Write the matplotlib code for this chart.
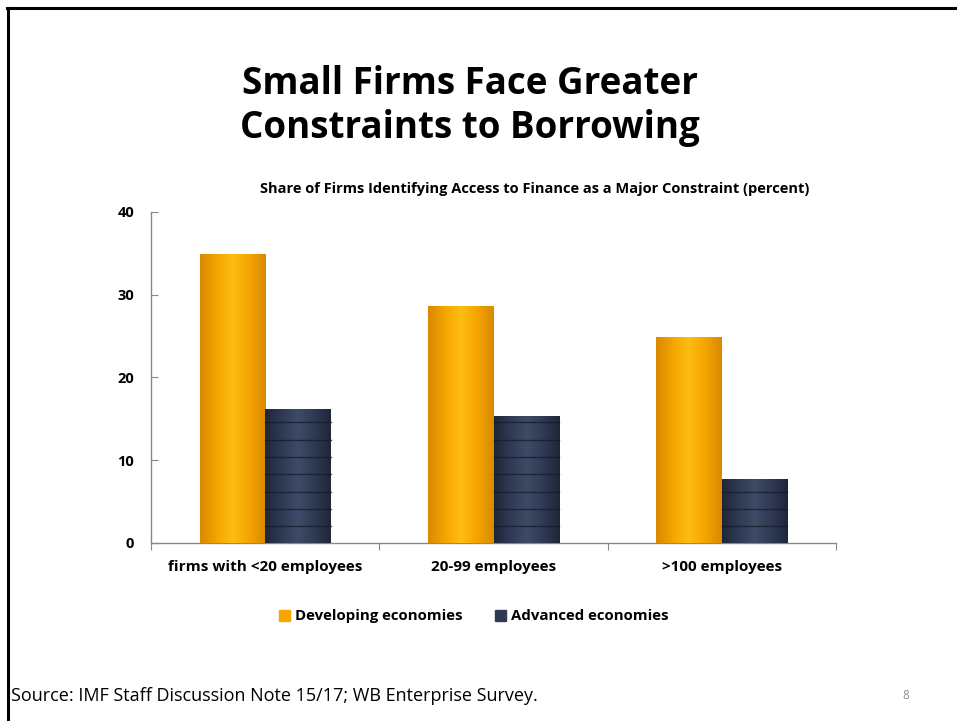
import numpy as np
import matplotlib.pyplot as plt
from matplotlib.colors import LinearSegmentedColormap
from matplotlib.patches import Patch

categories = ["firms with <20 employees", "20-99 employees", ">100 employees"]
developing = [34.9, 28.6, 24.9]
advanced = [16.2, 15.4, 7.7]
series_names = ["Developing economies", "Advanced economies"]

plt.rcParams["font.family"] = ["Open Sans", "DejaVu Sans"]

fig = plt.figure(figsize=(9.57, 7.21), dpi=100)
ax = fig.add_axes([0.1578, 0.2469, 0.7158, 0.4591])

# cylinder-ish shading across each bar
orange_cmap = LinearSegmentedColormap.from_list(
    "gold", ["#d98a00", "#f5a400", "#ffbe12", "#f5a400", "#d98a00"])
navy_cmap = LinearSegmentedColormap.from_list(
    "navy", ["#1e2638", "#2f3a55", "#3e4a66", "#2f3a55", "#1e2638"])

x = np.arange(len(categories)) + 0.5
w = 0.287
bars_dev = ax.bar(x - w / 2, developing, w, color="#f5a400", zorder=2)
bars_adv = ax.bar(x + w / 2, advanced, w, color="#2f3a55", zorder=2)

grad = np.linspace(0, 1, 64).reshape(1, -1)
for bars, cmap in [(bars_dev, orange_cmap), (bars_adv, navy_cmap)]:
    for b in bars:
        x0, y0 = b.get_x(), b.get_y()
        im = ax.imshow(grad, cmap=cmap, aspect="auto", zorder=3,
                       extent=[x0, x0 + b.get_width(), y0, y0 + b.get_height()])
        im.set_clip_path(b)

# stacked-ring lines on the navy bars
for b in bars_adv:
    for yy in np.arange(2.0, b.get_height() - 0.5, 2.1):
        ax.plot([b.get_x(), b.get_x() + b.get_width()], [yy, yy],
                color="#141a26", lw=1.0, alpha=0.7, zorder=4)

ax.set_xlim(0, 3)
ax.set_ylim(0, 40)
ax.set_yticks([0, 10, 20, 30, 40])
ax.set_xticks([0, 1, 2, 3])
ax.set_xticklabels([])
ax.set_xticks(x, minor=True)
ax.set_xticklabels(categories, minor=True, fontsize=11, fontweight="bold")
ax.tick_params(axis="x", which="minor", length=0, pad=12)
ax.tick_params(axis="x", which="major", direction="out", length=5, color="#888888")
ax.tick_params(axis="y", direction="in", length=5, color="#888888", pad=12,
               labelsize=10.5)
for lbl in ax.get_yticklabels():
    lbl.set_fontweight("bold")

for side in ["top", "right"]:
    ax.spines[side].set_visible(False)
for side in ["left", "bottom"]:
    ax.spines[side].set_color("#888888")
    ax.spines[side].set_linewidth(1)

ax.legend(handles=[Patch(color="#f5a400"), Patch(color="#2f3a55")],
          labels=series_names, loc="upper center", bbox_to_anchor=(0.471, -0.16),
          ncol=2, frameon=False, handlelength=0.75, handleheight=0.75,
          handletextpad=0.3, columnspacing=2.2,
          prop={"weight": "bold", "size": 10.8})

fig.text(0.491, 0.853, "Small Firms Face Greater\nConstraints to Borrowing",
         ha="center", va="center", fontsize=26.5, fontweight="bold",
         linespacing=1.2)
fig.text(0.559, 0.738,
         "Share of Firms Identifying Access to Finance as a Major Constraint (percent)",
         ha="center", va="center", fontsize=10.5, fontweight="bold")
fig.text(0.011, 0.035, "Source: IMF Staff Discussion Note 15/17; WB Enterprise Survey.",
         ha="left", va="center", fontsize=13)
fig.text(0.946, 0.036, "8", ha="center", va="center", fontsize=8.5, color="#8c8c8c")

# slide frame along top and left edges
fig.add_artist(plt.Line2D([0.0085, 0.0085], [0, 0.9895], color="black", lw=2.2,
                          transform=fig.transFigure))
fig.add_artist(plt.Line2D([0.0075, 1.0], [0.9895, 0.9895], color="black", lw=2.2,
                          transform=fig.transFigure))

fig.savefig("out.png", dpi=100, facecolor="white")
